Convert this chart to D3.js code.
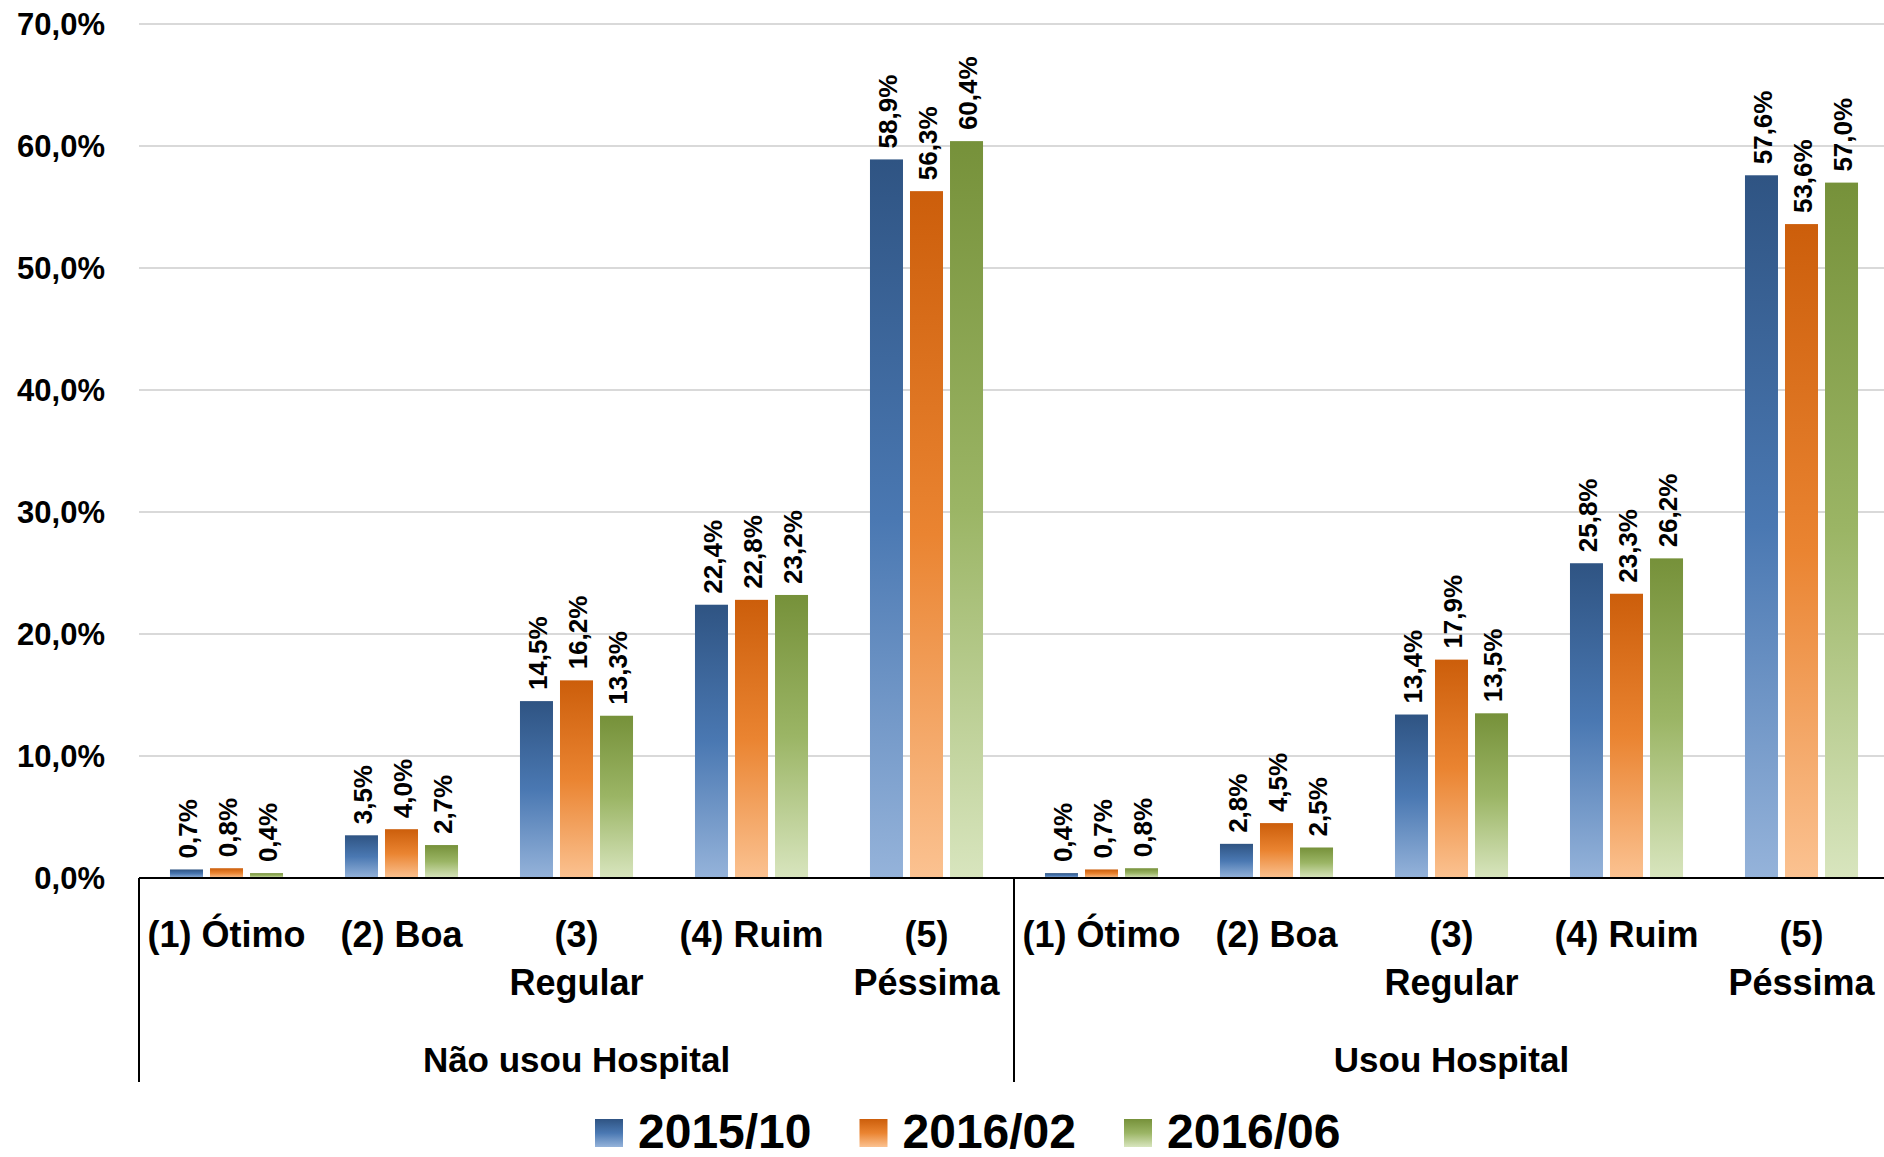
<!DOCTYPE html>
<html lang="pt">
<head>
  <meta charset="utf-8">
  <title>d3.js</title>
  <script src="https://d3js.org/d3.v7.min.js"></script>
  <style>
    body { margin: 0; background: #fff; }
    text { font-family: "Liberation Sans", Arial, sans-serif; font-weight: bold; fill: #000; }
  </style>
</head>
<body>
<svg id="chart"></svg>
<script>
// values (percent)
const groups = ['Não usou Hospital', 'Usou Hospital'],
  categories = ['(1) Ótimo', '(2) Boa', '(3)\nRegular', '(4) Ruim', '(5)\nPéssima'],
  seriesNames = ['2015/10', '2016/02', '2016/06'],
  v2015_10 = [0.7, 3.5, 14.5, 22.4, 58.9, 0.4, 2.8, 13.4, 25.8, 57.6],
  v2016_02 = [0.8, 4.0, 16.2, 22.8, 56.3, 0.7, 4.5, 17.9, 23.3, 53.6],
  v2016_06 = [0.4, 2.7, 13.3, 23.2, 60.4, 0.8, 2.5, 13.5, 26.2, 57.0],
  yTicks = [0, 10, 20, 30, 40, 50, 60, 70];

const seriesValues = [v2015_10, v2016_02, v2016_06],
  gradients = [
    ['#2f5483', '#4a78b2', '#95b3da'],
    ['#cc5e0b', '#ea8431', '#fbc291'],
    ['#76913a', '#9bb565', '#d8e5be']
  ],
  width = 1884,
  height = 1157,
  left = 139,
  right = 1889,
  axisY = 878;

const locale = d3.formatLocale({decimal: ',', thousands: '.', grouping: [3], currency: ['', '']});
const pct = locale.format('.1f');

const keys = [];
groups.forEach((g) => categories.forEach((c) => keys.push(g + '|' + c)));

const rows = keys.map((k, i) => ({
  key: k,
  values: seriesNames.map((s, j) => ({series: s, idx: j, value: seriesValues[j][i]}))
}));

const svg = d3.select('#chart')
  .attr('width', width)
  .attr('height', height);

const defs = svg.append('defs');
gradients.forEach((stops, i) => {
  const lg = defs.append('linearGradient')
    .attr('id', 'grad' + i)
    .attr('x1', 0).attr('y1', 0).attr('x2', 0).attr('y2', 1);
  lg.selectAll('stop')
    .data(stops)
    .enter().append('stop')
    .attr('offset', (d, k) => k / (stops.length - 1))
    .attr('stop-color', (d) => d);
});

const x0 = d3.scaleBand()
  .domain(keys)
  .range([left, right])
  .paddingInner(0.354)
  .paddingOuter(0.177);

const x1 = d3.scaleBand()
  .domain(seriesNames)
  .range([0, x0.bandwidth()])
  .paddingInner(0.175);

const xg = d3.scaleBand()
  .domain(groups)
  .range([left, right]);

const y = d3.scaleLinear()
  .domain([0, 70])
  .range([axisY, 24]);

// gridlines + y labels
svg.append('g')
  .selectAll('line')
  .data(yTicks.slice(1))
  .enter().append('line')
  .attr('x1', left)
  .attr('x2', width)
  .attr('y1', (d) => y(d))
  .attr('y2', (d) => y(d))
  .attr('stroke', '#d9d9d9')
  .attr('stroke-width', 2);

svg.append('g')
  .selectAll('text')
  .data(yTicks)
  .enter().append('text')
  .attr('x', 105)
  .attr('y', (d) => y(d))
  .attr('dy', '0.36em')
  .attr('text-anchor', 'end')
  .style('font-size', '31px')
  .text((d) => pct(d) + '%');

// bars
const cat = svg.append('g')
  .selectAll('g')
  .data(rows)
  .enter().append('g')
  .attr('transform', (d) => `translate(${x0(d.key)},0)`);

cat.selectAll('rect')
  .data((d) => d.values)
  .enter().append('rect')
  .attr('x', (d) => x1(d.series))
  .attr('y', (d) => y(d.value))
  .attr('width', x1.bandwidth())
  .attr('height', (d) => axisY - y(d.value))
  .attr('fill', (d) => `url(#grad${d.idx})`);

cat.selectAll('text')
  .data((d) => d.values)
  .enter().append('text')
  .attr('transform', (d) => `translate(${x1(d.series) + x1.bandwidth() / 2},${y(d.value) - 11}) rotate(-90)`)
  .attr('dy', '0.42em')
  .style('font-size', '26px')
  .text((d) => pct(d.value) + '%');

// axis line
svg.append('line')
  .attr('x1', left)
  .attr('x2', width)
  .attr('y1', axisY)
  .attr('y2', axisY)
  .attr('stroke', '#000')
  .attr('stroke-width', 2);

// category labels
const catLabels = svg.append('g')
  .selectAll('text')
  .data(keys)
  .enter().append('text')
  .attr('x', (d) => x0(d) + x0.bandwidth() / 2)
  .attr('y', 947)
  .attr('text-anchor', 'middle')
  .style('font-size', '36px');

catLabels.selectAll('tspan')
  .data((d) => d.split('|')[1].split('\n'))
  .enter().append('tspan')
  .attr('x', function () { return d3.select(this.parentNode).attr('x'); })
  .attr('dy', (d, i) => i === 0 ? 0 : 48)
  .text((d) => d);

// group separators + labels
svg.append('g')
  .selectAll('line')
  .data(groups)
  .enter().append('line')
  .attr('x1', (d) => xg(d))
  .attr('x2', (d) => xg(d))
  .attr('y1', axisY)
  .attr('y2', 1082)
  .attr('stroke', '#000')
  .attr('stroke-width', 2);

svg.append('g')
  .selectAll('text')
  .data(groups)
  .enter().append('text')
  .attr('x', (d) => xg(d) + xg.bandwidth() / 2)
  .attr('y', 1072)
  .attr('text-anchor', 'middle')
  .style('font-size', '35px')
  .text((d) => d);

// legend
const legend = svg.append('g')
  .selectAll('g')
  .data(seriesNames)
  .enter().append('g')
  .attr('transform', (d, i) => `translate(${595 + i * 264.5},1119)`);

legend.append('rect')
  .attr('width', 28)
  .attr('height', 28)
  .attr('fill', (d, i) => `url(#grad${i})`);

legend.append('text')
  .attr('x', 43)
  .attr('y', 29)
  .style('font-size', '48px')
  .text((d) => d);
</script>
</body>
</html>
